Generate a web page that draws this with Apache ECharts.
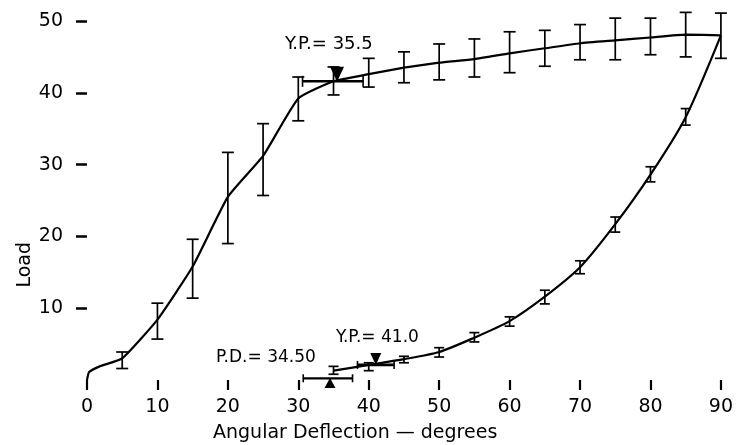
<!DOCTYPE html>
<html><head><meta charset="utf-8">
<script src="https://cdn.jsdelivr.net/npm/echarts@6/dist/echarts.min.js"></script>
<style>html,body{margin:0;padding:0;background:#fff}#c{width:736px;height:445px}</style>
</head><body><div id="c"></div>
<script>
// ---- data ----
const xTickValues = [0,10,20,30,40,50,60,70,80,90];
const yTickValues = [10,20,30,40,50];

// loading curve [deflection, load]
const loadingCurve = [[0,0],[0.3,1.1],[1.8,1.9],[5,3.0],[10,8.4],[15,15.8],[20,25.5],[25,31.2],[30,39.2],[35,41.6],[40,42.6],[45,43.5],[50,44.2],[55,44.7],[60,45.5],[65,46.2],[70,46.9],[75,47.3],[80,47.7],[85,48.1],[90,48.0]];
// loading error bars [deflection, low, high]
const loadingErr = [[5,1.6,3.9],[10,5.7,10.7],[15,11.4,19.6],[20,19.0,31.7],[25,25.7,35.7],[30,36.1,42.2],[35,39.7,43.6],[40,40.8,44.8],[45,41.4,45.7],[50,41.8,46.8],[55,42.2,47.5],[60,42.8,48.5],[65,43.7,48.7],[70,44.6,49.5],[75,44.6,50.4],[80,45.3,50.4],[85,45.0,51.2],[90,44.8,51.1]];

// unloading curve
const unloadingCurve = [[35,1.3],[40,2.1],[45,2.9],[50,3.9],[55,5.9],[60,8.2],[65,11.6],[70,15.7],[75,21.7],[80,28.6],[85,36.6],[90,48.0]];
const unloadingErr = [[35,0.8,1.9],[40,1.3,2.4],[45,2.4,3.3],[50,3.2,4.5],[55,5.3,6.6],[60,7.5,8.8],[65,10.6,12.5],[70,14.8,16.6],[75,20.6,22.7],[80,27.6,29.7],[85,35.5,37.8]];

// horizontal error bars [xLow, xHigh, load]
const ypLoadBar = [[30.6,39.2,41.6]];
const ypUnloadBar = [[38.4,43.6,2.1]];
const pdBar = [[30.7,37.7,0.24]];

// markers
const ypLoadMark = [[35.5,41.6]];
const ypUnloadMark = [[41.0,2.1]];
const pdMark = [[34.5,0]];

const labels = { ypLoad: 'Y.P.= 35.5', ypUnload: 'Y.P.= 41.0', pd: 'P.D.= 34.50' };
const xTitle = 'Angular Deflection — degrees';
const yTitle = 'Load';

const FONT = 'DejaVu Sans';

function vErr(cap, lw) {
  return function (params, api) {
    const x = api.value(0), lo = api.value(1), hi = api.value(2);
    const a = api.coord([x, lo]), b = api.coord([x, hi]);
    const st = { stroke: '#000', lineWidth: lw };
    return { type: 'group', children: [
      { type: 'line', shape: { x1: a[0], y1: a[1], x2: b[0], y2: b[1] }, style: st },
      { type: 'line', shape: { x1: a[0]-cap, y1: a[1], x2: a[0]+cap, y2: a[1] }, style: st },
      { type: 'line', shape: { x1: b[0]-cap, y1: b[1], x2: b[0]+cap, y2: b[1] }, style: st }
    ]};
  };
}
function hErr(cap, lw) {
  return function (params, api) {
    const x1 = api.value(0), x2 = api.value(1), y = api.value(2);
    const a = api.coord([x1, y]), b = api.coord([x2, y]);
    const st = { stroke: '#000', lineWidth: lw };
    return { type: 'group', children: [
      { type: 'line', shape: { x1: a[0], y1: a[1], x2: b[0], y2: b[1] }, style: st },
      { type: 'line', shape: { x1: a[0], y1: a[1]-cap, x2: a[0], y2: a[1]+cap }, style: { stroke: '#000', lineWidth: 1.6 } },
      { type: 'line', shape: { x1: b[0], y1: b[1]-cap, x2: b[0], y2: b[1]+cap }, style: { stroke: '#000', lineWidth: 1.6 } }
    ]};
  };
}

const chart = echarts.init(document.getElementById('c'), null, { renderer: 'canvas' });
chart.setOption({
  animation: false,
  backgroundColor: '#fff',
  grid: { left: 87, right: 15, top: 21, bottom: 65, containLabel: false },
  xAxis: {
    type: 'value', min: 0, max: 90, interval: 10, offset: 2,
    axisLine: { show: false },
    axisTick: { show: true, length: 10, lineStyle: { color: '#000', width: 2.2 } },
    splitLine: { show: false },
    axisLabel: { color: '#000', fontFamily: FONT, fontSize: 19, margin: 16, customValues: xTickValues }
  },
  yAxis: {
    type: 'value', min: 0, max: 50, interval: 10, offset: 4,
    axisLine: { show: false },
    axisTick: { show: true, length: 11, lineStyle: { color: '#000', width: 2.5 }, customValues: yTickValues },
    splitLine: { show: false },
    axisLabel: { color: '#000', fontFamily: FONT, fontSize: 19, margin: 20, customValues: yTickValues, padding: [5,0,0,0] }
  },
  graphic: [
    { type: 'text', left: 16, top: 242, rotation: Math.PI/2, style: { text: yTitle, fontFamily: FONT, fontSize: 19, fill: '#000' } },
    { type: 'text', x: 213, y: 424, style: { text: xTitle, fontFamily: FONT, fontSize: 19, fill: '#000' } },
    { type: 'text', x: 285, y: 35, style: { text: labels.ypLoad, fontFamily: FONT, fontSize: 18, fill: '#000' } },
    { type: 'text', x: 336, y: 329, style: { text: labels.ypUnload, fontFamily: FONT, fontSize: 17, fill: '#000' } },
    { type: 'text', x: 216, y: 349, style: { text: labels.pd, fontFamily: FONT, fontSize: 17, fill: '#000' } }
  ],
  series: [
    { type: 'line', data: loadingCurve, smooth: 0.15, showSymbol: false, lineStyle: { color: '#000', width: 2.2 }, z: 3 },
    { type: 'line', data: unloadingCurve, smooth: 0.25, showSymbol: false, lineStyle: { color: '#000', width: 2.2 }, z: 3 },
    { type: 'custom', data: loadingErr, renderItem: vErr(6, 1.7), z: 2 },
    { type: 'custom', data: unloadingErr, renderItem: vErr(5, 1.7), z: 2 },
    { type: 'custom', data: ypLoadBar, renderItem: hErr(5.5, 2.6), z: 4 },
    { type: 'custom', data: ypUnloadBar, renderItem: hErr(4, 2.6), z: 4 },
    { type: 'custom', data: pdBar, renderItem: hErr(4, 2.2), z: 4 },
    { type: 'scatter', data: ypLoadMark, symbol: 'triangle', symbolRotate: 180, symbolSize: [14, 15], symbolOffset: [0, -7], itemStyle: { color: '#000', opacity: 1 }, clip: false, z: 5 },
    { type: 'scatter', data: ypUnloadMark, symbol: 'triangle', symbolRotate: 180, symbolSize: [11, 12], symbolOffset: [0, -6], itemStyle: { color: '#000', opacity: 1 }, clip: false, z: 5 },
    { type: 'scatter', data: pdMark, symbol: 'triangle', symbolSize: [11, 10], symbolOffset: [0, 3], itemStyle: { color: '#000', opacity: 1 }, clip: false, z: 5 }
  ]
});
</script></body></html>
